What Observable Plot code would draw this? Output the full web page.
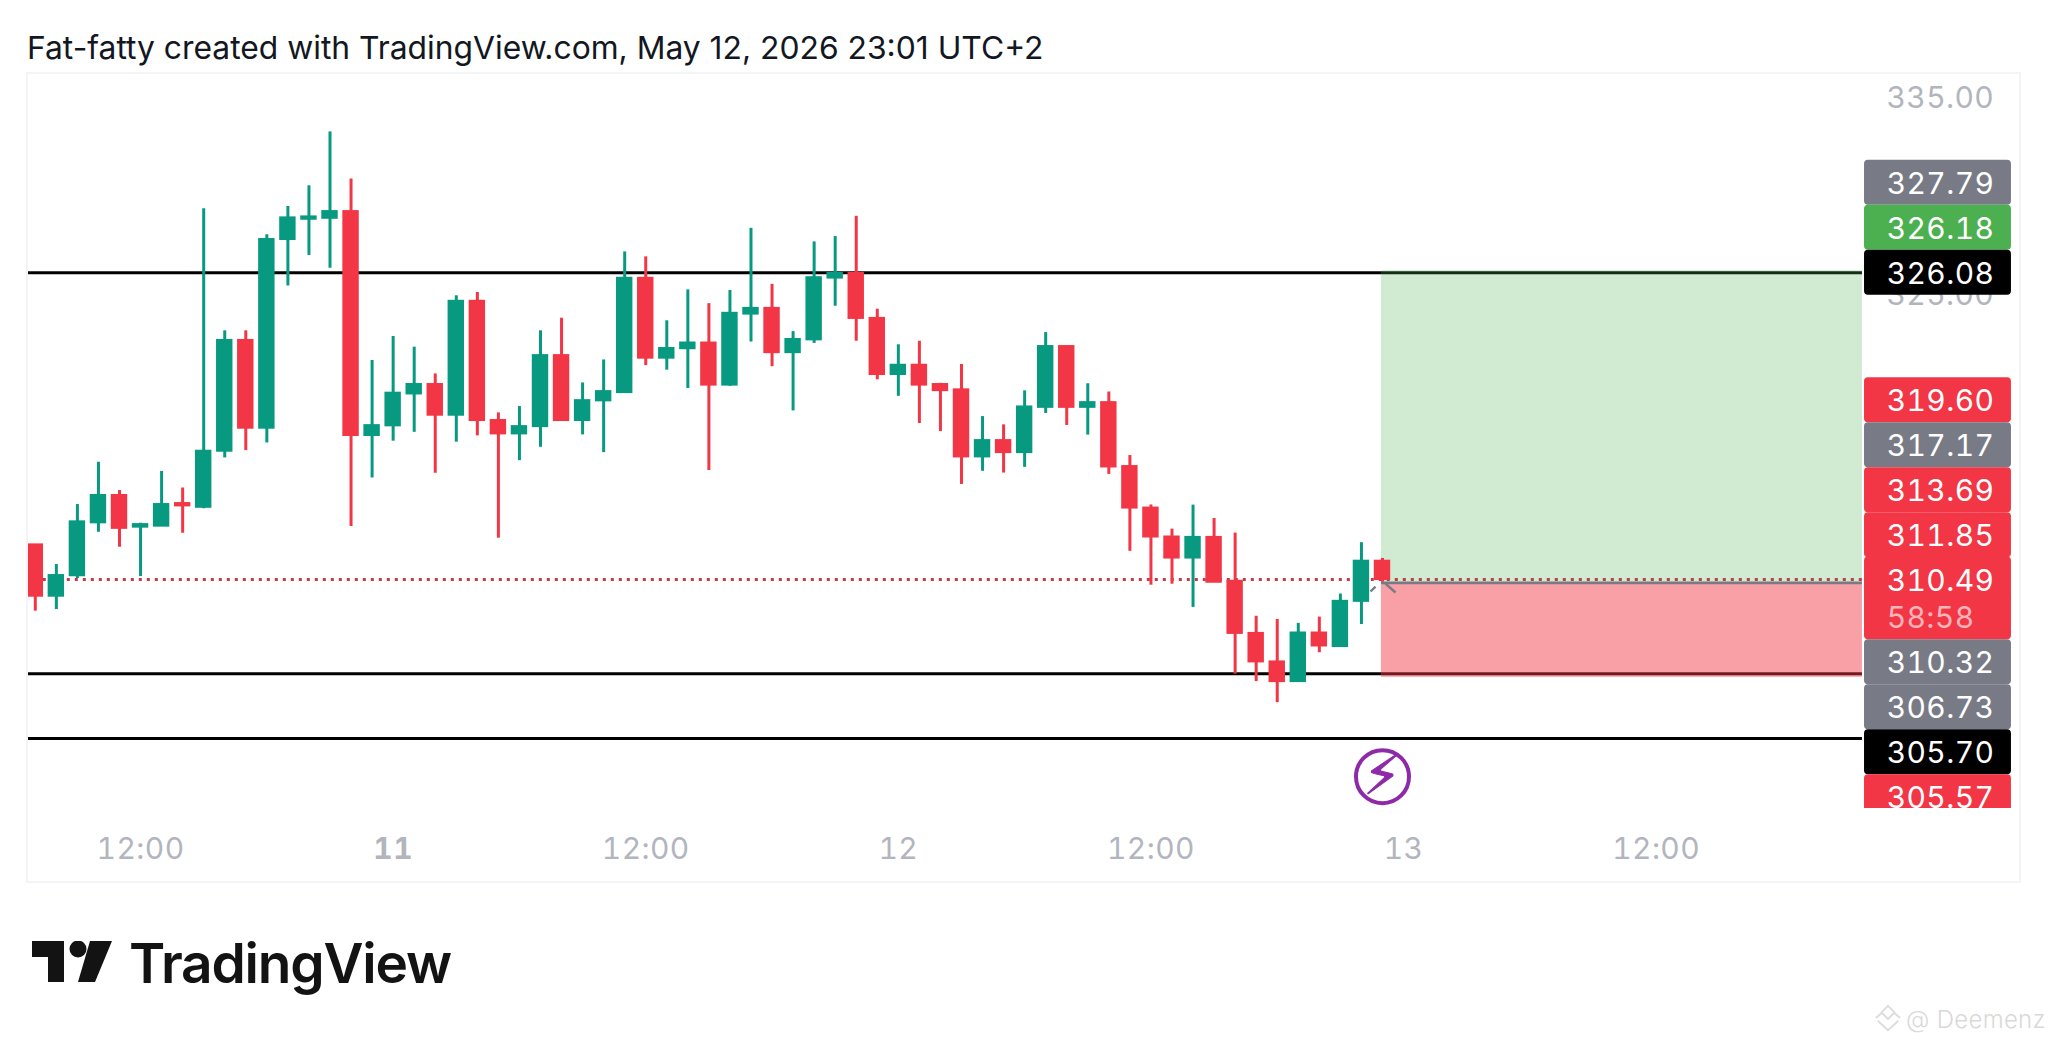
<!DOCTYPE html>
<html lang="en">
<head>
<meta charset="utf-8">
<title>TradingView chart</title>
<script src="https://cdn.jsdelivr.net/npm/d3@7"></script>
<script src="https://cdn.jsdelivr.net/npm/@observablehq/plot@0.6"></script>
<style>
html,body{margin:0;padding:0;background:#fff;width:2048px;height:1043px;overflow:hidden;font-family:Inter,sans-serif;position:relative}
#title{height:72px;box-sizing:border-box;padding:29px 0 0 27px;font-size:31.8px;line-height:38px;color:#131722;white-space:nowrap}
#chart{height:811px;position:relative}
#chart svg{display:block}
#chart svg text{font-variant-numeric:tabular-nums;letter-spacing:.4px}
#frame{position:absolute;left:26px;top:0;width:1995px;height:811px;box-sizing:border-box;border:2px solid #f3f4f7;pointer-events:none}
#footer{height:160px;position:relative}
#logo{position:absolute;left:32px;top:58px;width:80px;height:41px}
#brand{position:absolute;left:129px;top:47px;font-size:55px;line-height:66px;font-weight:600;letter-spacing:-1.2px;color:#131313}
#mark{position:absolute;left:1874px;top:121px;width:28px;height:28px}
#wm{position:absolute;left:1906px;top:122px;font-size:24px;line-height:30px;color:#d9d9d9;font-weight:300;letter-spacing:.3px;white-space:nowrap}
</style>
</head>
<body>
<div id="title">Fat-fatty created with TradingView.com, May 12, 2026 23:01 UTC+2</div>
<div id="chart"><div id="frame"></div></div>
<div id="footer">
  <svg id="logo" viewBox="0 0 80 41"><path fill="#131313" d="M0 0H32V41H16V16H0Z"/><circle fill="#131313" cx="46" cy="8" r="8.5"/><path fill="#131313" d="M58 0H80L63 41H46Z"/></svg>
  <div id="brand">TradingView</div>
  <svg id="mark" viewBox="0 0 30 30" fill="none" stroke="#dcdcdc" stroke-width="2"><path d="M15 2L22 9L15 16L8 9Z"/><path d="M2 15L8 10M28 15L22 10M4 18L15 28L26 18"/></svg>
  <div id="wm">@ Deemenz</div>
</div>
<script>
const opens = [312.25,309.64,310.68,313.37,314.76,313.15,313.20,314.35,314.16,317.01,322.64,318.18,327.77,328.80,328.85,329.19,317.81,318.30,319.92,320.40,318.84,324.63,318.57,317.89,318.26,321.87,318.57,319.57,319.99,325.80,321.74,322.22,322.51,320.37,323.98,324.27,322.02,322.67,325.81,326.05,323.76,320.91,321.38,320.40,320.13,316.72,317.55,316.94,319.24,322.33,319.24,319.48,316.23,314.12,312.65,311.58,312.63,310.40,307.75,306.30,305.30,307.77,307.08,309.38,311.42];
const closes = [309.64,310.69,313.42,314.76,313.09,313.28,314.30,314.23,317.01,322.64,318.18,327.77,328.87,328.92,329.19,317.81,318.31,319.96,320.40,318.84,324.63,318.57,317.89,318.26,321.87,318.57,319.58,320.04,325.80,321.74,322.23,322.51,320.37,324.02,324.27,322.02,322.69,325.83,326.05,323.76,320.91,321.38,320.37,320.09,316.72,317.55,316.94,319.26,322.33,319.24,319.48,316.21,314.12,312.65,311.58,312.63,310.35,307.75,306.30,305.30,307.77,307.11,309.38,311.42,310.49];
const highs = [312.25,311.25,314.30,316.45,315.01,313.35,315.98,315.14,329.33,323.13,323.13,328.01,329.45,330.50,333.24,330.85,321.62,322.84,322.30,320.94,324.91,325.08,318.96,319.28,323.13,323.77,320.48,321.65,327.14,326.89,323.64,325.21,324.51,325.18,328.34,325.49,323.09,327.65,327.92,328.95,324.23,322.42,322.60,320.46,321.42,318.77,318.35,320.08,323.04,322.36,320.44,320.02,316.79,314.28,313.05,314.27,313.59,312.85,308.62,308.46,308.26,308.58,309.75,312.36,311.56];
const lows = [308.88,308.96,310.54,312.89,312.13,310.64,313.20,312.84,314.09,316.67,317.04,317.43,325.41,326.96,326.31,313.18,315.65,317.52,317.97,315.89,317.47,317.79,312.59,316.53,317.21,318.57,317.84,316.94,319.96,321.36,321.13,320.20,316.03,320.31,322.56,321.31,319.06,322.49,324.38,322.60,320.64,319.80,318.42,318.01,315.32,315.99,315.90,316.19,318.93,318.32,317.83,315.83,311.92,310.20,310.25,309.07,310.35,305.68,305.30,304.23,305.26,306.77,307.06,308.20,310.35];

// hourly candles: tick positions are candle numbers
const timeTicks = [5, 29, 41, 53, 65, 77];
const timeTickLabels = ["12:00", "12:00", "12", "12:00", "13", "12:00"];
const boldTicks = [17];
const boldTickLabels = ["11"];
const priceTicks = [335, 325];

const hLevels = [326.08, 305.70, 302.41];
const lastPrice = 310.49;
const tpPrice = 326.18, entryPrice = 310.32, stopPrice = 305.52;

const labelTexts = ["327.79","326.18","326.08","319.60","317.17","313.69","311.85","310.49","58:58","310.32","306.73","305.70","305.57"];
const labelAnchors = [326.08,326.08,326.08,319.60,319.60,319.60,319.60,310.49,310.49,310.49,310.49,310.49,310.49];
const labelSlots = [-2,-1,0,0,1,2,3,0,0.84,1.84,2.84,3.84,4.84];
const labelFills = ["#787B86","#4CAF50","#000000","#F23645","#787B86","#F23645","#F23645","#F23645","#F23645","#787B86","#787B86","#000000","#F23645"];
const labelInk = ["#fff","#fff","#fff","#fff","#fff","#fff","#fff","#fff","#fbb4ba","#fff","#fff","#fff","#fff"];

const up = "#089981", down = "#F23645";
const candles = opens.map((o, i) => ({i, o, c: closes[i], h: highs[i], l: lows[i], col: closes[i] >= o ? up : down}));

const slotPrice = 45 / 19.67;            // one label row in price units
const labels = labelTexts.map((t, k) => {
  const y = labelAnchors[k] - labelSlots[k] * slotPrice;
  return {t, y, y1: y + slotPrice / 2, y2: y - slotPrice / 2, fill: labelFills[k], ink: labelInk[k]};
});

const xStart = -0.418, xEnd = 95.64, paneEnd = 86.8, toolStart = 63.95;
const columnLeft = 86.9, columnRight = 93.88, columnText = 87.95;
const axisInk = "#B2B5BE";

const plot = Plot.plot({
  width: 2048, height: 811,
  marginLeft: 26, marginRight: 0, marginTop: 0, marginBottom: 75,
  style: {fontFamily: "Inter, sans-serif", background: "transparent"},
  x: {type: "linear", domain: [xStart, xEnd], axis: null},
  y: {domain: [298.85, 336.26], axis: null},
  marks: [
    Plot.axisY(priceTicks, {anchor: "right", tickSize: 0, tickPadding: 0, dx: -162, dy: 1.5, textAnchor: "start", fontSize: 30, fill: axisInk, label: null, tickFormat: d => d.toFixed(2)}),
    Plot.axisX(timeTicks, {anchor: "bottom", tickSize: 0, tickPadding: 29, fontSize: 30, fill: axisInk, label: null, tickFormat: d => timeTickLabels[timeTicks.indexOf(d)]}),
    Plot.axisX(boldTicks, {anchor: "bottom", tickSize: 0, tickPadding: 29, fontSize: 30, fontWeight: 700, fill: axisInk, label: null, tickFormat: d => boldTickLabels[boldTicks.indexOf(d)]}),
    Plot.ruleY(hLevels, {x1: xStart, x2: paneEnd, stroke: "#000", strokeWidth: 3}),
    Plot.rect([{y1: entryPrice, y2: tpPrice}], {x1: toolStart, x2: paneEnd, y1: "y1", y2: "y2", fill: "#4CAF50", fillOpacity: 0.26}),
    Plot.rect([{y1: stopPrice, y2: entryPrice}], {x1: toolStart, x2: paneEnd, y1: "y1", y2: "y2", fill: "#F23645", fillOpacity: 0.48}),
    Plot.ruleY([entryPrice], {x1: toolStart, x2: paneEnd, stroke: "#787B86", strokeWidth: 2.6}),
    Plot.ruleY([lastPrice], {x1: 0, x2: paneEnd, stroke: "#C23B46", strokeWidth: 3, strokeDasharray: "3,5"}),
    Plot.ruleX(candles, {x: "i", y1: "l", y2: "h", stroke: "col", strokeWidth: 3}),
    Plot.rect(candles, {x1: d => d.i - 0.39, x2: d => d.i + 0.39, y1: d => Math.min(d.o, d.c), y2: d => Math.max(d.o, d.c), fill: "col", insetTop: -1, insetBottom: -1}),
    Plot.link([{x1: 64.14, y1: 310.28, x2: 64.62, y2: 309.83}, {x1: 63.43, y1: 309.88, x2: 63.67, y2: 310.13}], {x1: "x1", y1: "y1", x2: "x2", y2: "y2", stroke: "#787B86", strokeWidth: 2.4}),
    Plot.rect(labels, {x1: columnLeft, x2: columnRight, y1: "y1", y2: "y2", fill: "fill", rx: 4, clip: "frame"}),
    Plot.text(labels, {x: columnText, y: "y", text: "t", fill: "ink", fontSize: 30, textAnchor: "start", lineAnchor: "middle", dy: 1.5, clip: "frame"}),
    Plot.dot([{x: 64, y: 300.47}], {x: "x", y: "y", r: 26.5, stroke: "#8E2AA8", strokeWidth: 4, fill: "#fff"}),
    Plot.text([{x: 64, y: 300.47}], {x: "x", y: "y", text: () => "\u26A1\uFE0E", fill: "#8E2AA8", stroke: "#8E2AA8", strokeWidth: 1, fontSize: 54, fontFamily: "DejaVu Sans"})
  ]
});
document.getElementById("chart").prepend(plot);
</script>
</body>
</html>
